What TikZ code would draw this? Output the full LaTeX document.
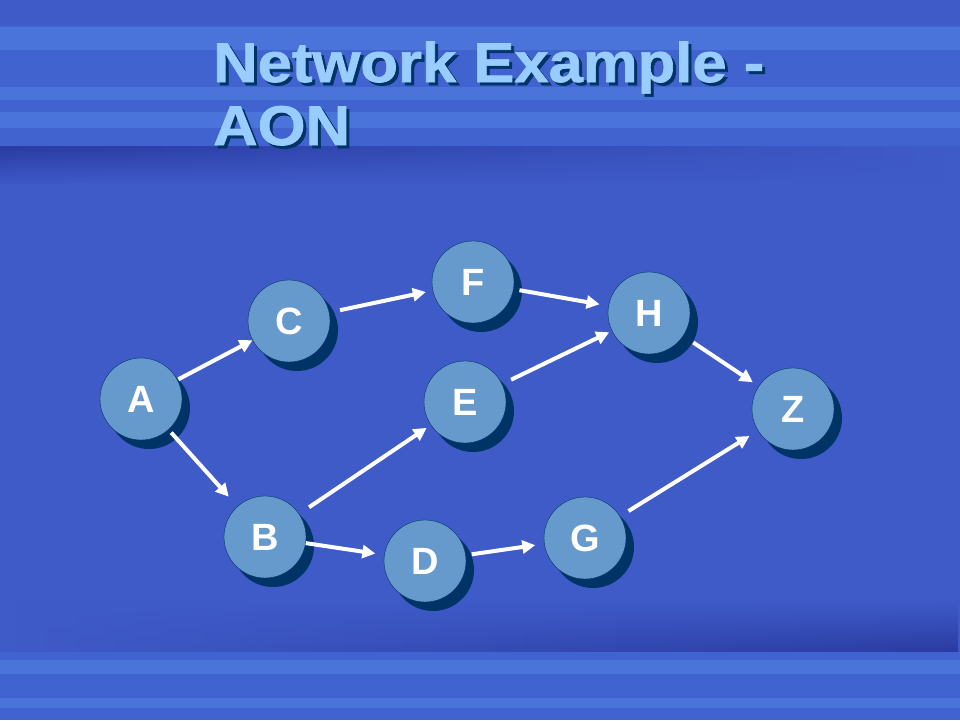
\documentclass[tikz,border=0pt]{standalone}
\usepackage{fontspec}
\setmainfont{Liberation Sans}
\newfontfamily\titlefont[FakeStretch=1.1,FakeBold=1.2]{Liberation Sans}
\usetikzlibrary{arrows.meta,shadows,fadings}

\definecolor{slidebg}{HTML}{3F5BC8}
\definecolor{bandbg}{HTML}{4163CF}
\definecolor{stripe}{HTML}{4B74DA}
\definecolor{deepbg}{HTML}{2A3BA2}
\definecolor{actfill}{HTML}{6699CC}
\definecolor{navy}{HTML}{003366}
\definecolor{titleblue}{HTML}{99CCFF}

\tikzset{
	act/.style={circle, draw=navy, thin, fill=actfill, minimum size=82pt, inner sep=0pt,
		text=white, font=\fontsize{38}{38}\selectfont\bfseries,
		drop shadow={shadow xshift=8pt, shadow yshift=-9pt, fill=navy, opacity=1}},
	title/.style={anchor=base west, inner sep=0pt, text=titleblue,
		font=\titlefont\fontsize{56}{56}\selectfont\bfseries},
	titleshadow/.style={title, text=navy},
	link/.style={->, white, line width=4pt, shorten <=6pt, shorten >=7pt}
}

\begin{document}
\begin{tikzpicture}[x=1pt,y=-1pt,>={Triangle[length=13pt,width=13pt]}]
		\useasboundingbox (0,0) rectangle (960,720);

		% slide background
		\fill[slidebg] (0,0) rectangle (960,720);
		\fill[bandbg] (0,25) rectangle (960,146);
		\foreach \ya/\yb in {27/50, 87/100, 112/128}
			\fill[stripe] (0,\ya) rectangle (960,\yb);
		\shade[left color=deepbg, right color=slidebg, path fading=south] (0,146) rectangle (960,185);
		\shade[left color=slidebg, right color=deepbg, path fading=north] (0,600) rectangle (960,652);
		\fill[bandbg] (0,652) rectangle (960,720);
		\foreach \ya/\yb in {660/674, 698/708}
			\fill[stripe] (0,\ya) rectangle (960,\yb);

		% title
		\node[titleshadow] at (216,85) {Network Example -};
		\node[titleshadow] at (216,148) {AON};
		\node[title] (ttl) at (213,82) {Network Example -};
		\node[title] (ttlb) at (213,145) {AON};

		% activities
		\node[act] (A) at (141,399) {A};
		\node[act] (C) at (289,321) {C};
		\node[act] (B) at (265,537) {B};
		\node[act] (F) at (473,282) {F};
		\node[act] (E) at (465,402) {E};
		\node[act] (D) at (425,561) {D};
		\node[act] (H) at (649,313) {H};
		\node[act] (G) at (585,538) {G};
		\node[act] (Z) at (793,409) {Z};

		\path[link]
		(A)	edge	[shorten <=1pt, shorten >=0pt]	(C)
			edge	[shorten <=4pt, shorten >=13pt]	(B)
		(C)	edge	[shorten <=11pt]	(F)
		(F)	edge	[shorten >=9pt]	(H)
		(B)	edge	[shorten <=12pt, shorten >=5pt]	(E)
			edge	[shorten <=0pt, shorten >=9pt]	(D)
		(E)	edge	[shorten <=10pt, shorten >=3pt]	(H)
		(D)	edge	[shorten >=9pt]	(G)
		(G)	edge	[shorten <=10pt, shorten >=10pt]	(Z)
		(H)	edge	[shorten <=12pt]	(Z)
		;
\end{tikzpicture}
\end{document}
